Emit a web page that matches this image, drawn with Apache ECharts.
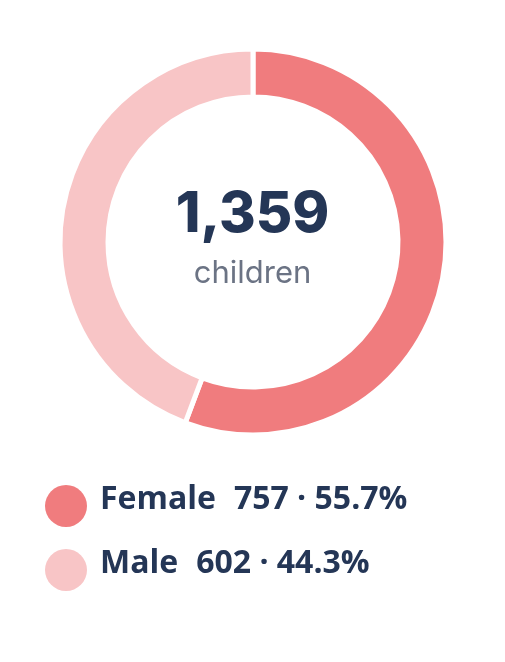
<!DOCTYPE html>
<html><head><meta charset="utf-8">
<script src="https://cdn.jsdelivr.net/npm/echarts@6/dist/echarts.min.js"></script>
<style>html,body{margin:0;padding:0;background:#fff}#c{width:505px;height:662px}</style>
</head><body><div id="c"></div>
<script>
const categories = ["Female", "Male"];
const values = [757, 602];
const percents = ["55.7%", "44.3%"];
const total = 1359;
const centerLabel = "children";
const colors = ["#F07C7E", "#F8C5C6"];
const chart = echarts.init(document.getElementById('c'));
const font = "Inter, 'Noto Sans', sans-serif";
const lfont = "'Open Sans', 'Noto Sans', sans-serif";
const legendEls = [];
categories.forEach((c, i) => {
  const y = 506 + i * 64;
  legendEls.push({type:'circle', shape:{cx:66, cy:y, r:21}, style:{fill:colors[i]}});
  legendEls.push({type:'text', left:100, top:y-22, style:{
    text:'{n|' + c + '}{v|' + values[i] + ' · ' + percents[i] + '}',
    rich:{
      n:{fontSize:32, fontWeight:700, fill:'#243656', fontFamily:lfont},
      v:{fontSize:32, fontWeight:700, fill:'#243656', fontFamily:lfont, padding:[0,0,0,18]}
    }}});
});
chart.setOption({
  animation:false,
  series:[{
    type:'pie', center:[253,242], radius:[145,193], startAngle:90, clockwise:true,
    label:{show:false}, labelLine:{show:false}, silent:true,
    itemStyle:{borderColor:'#fff', borderWidth:5},
    data: categories.map((c,i)=>({name:c, value:values[i], itemStyle:{color:colors[i]}}))
  }],
  graphic: [
    {type:'text', left:'center', top:187, style:{text: total.toLocaleString('en-US'), fontSize:56, fontWeight:800, fill:'#243656', fontFamily:font}},
    {type:'text', left:'center', top:258, style:{text: centerLabel, fontSize:31, fill:'#6B7384', fontFamily:font}}
  ].concat(legendEls)
});
</script></body></html>
